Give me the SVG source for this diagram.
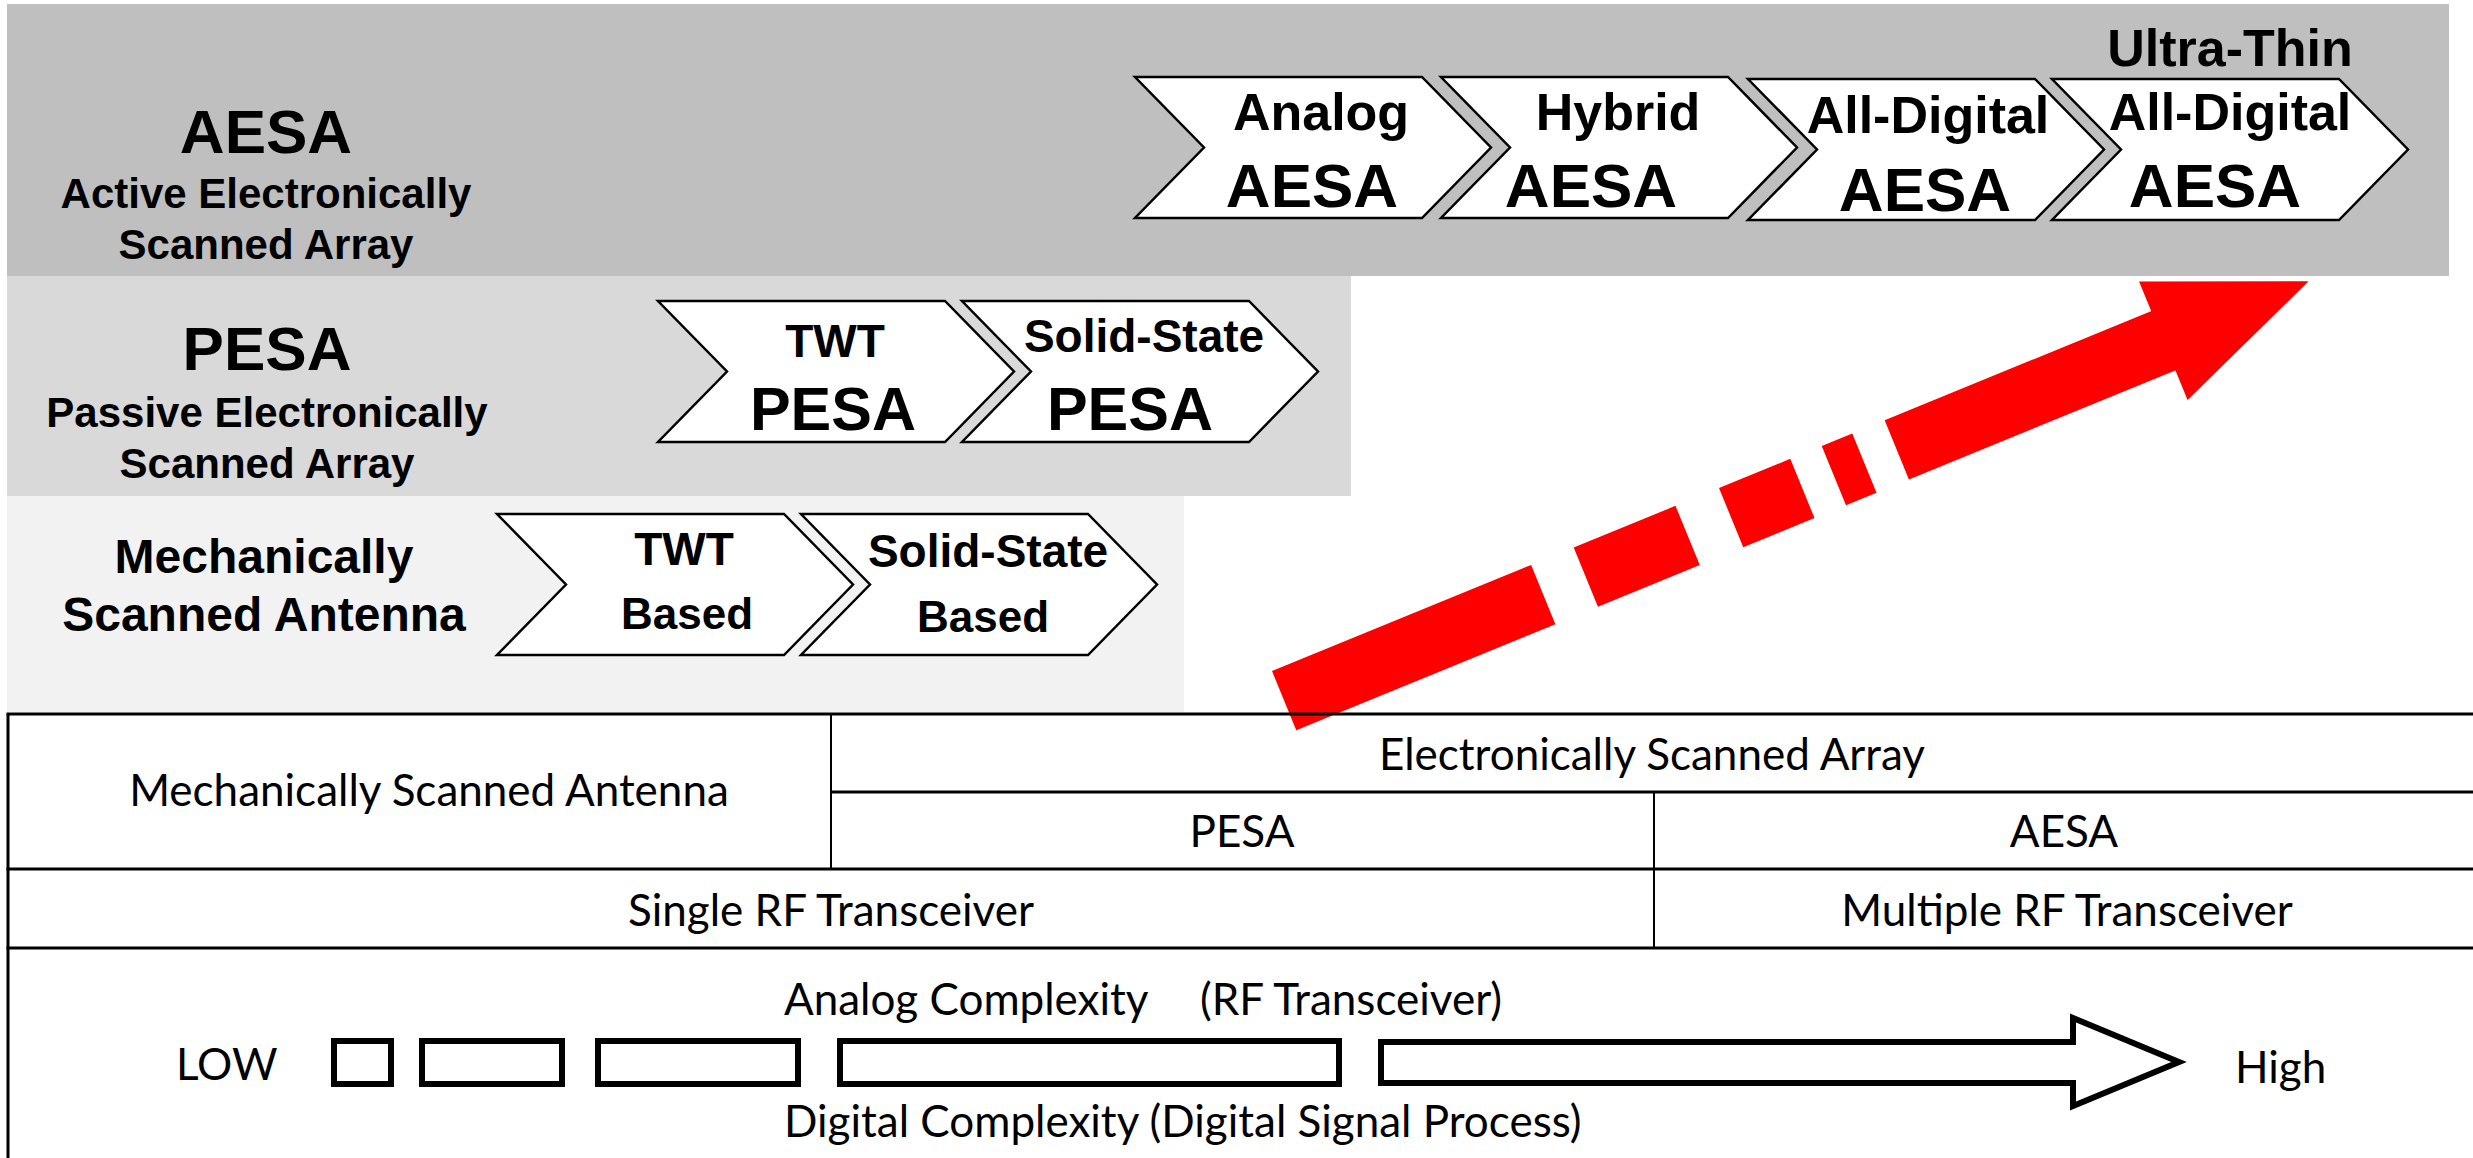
<svg xmlns="http://www.w3.org/2000/svg" width="2473" height="1158" viewBox="0 0 2473 1158">
<style>
.b{font-family:"Liberation Sans",Arial,sans-serif;font-weight:bold;fill:#000;text-anchor:middle}
.t{font-family:Lato,"Open Sans",sans-serif;fill:#000;font-size:44px}
.tc{text-anchor:middle}
.chev{fill:#fff;stroke:#000;stroke-width:2.5;stroke-linejoin:miter}
.ln{stroke:#000;stroke-width:3;fill:none}
.vl{stroke:#000;stroke-width:2;fill:none}
.bx{fill:#fff;stroke:#000;stroke-width:6}
</style>
<defs>
<path id="chev" d="M0,0 H287 L356,70.5 L287,141 H0 L69,70.5 Z"/>
</defs>

<!-- bands -->
<g id="bands">
<rect x="7" y="4" width="2442" height="272" fill="#bfbfbf"/>
<rect x="7" y="276" width="1344" height="220" fill="#d9d9d9"/>
<rect x="7" y="496" width="1177" height="216" fill="#f2f2f2"/>
</g>

<!-- left labels -->
<g id="label-aesa">
<text class="b" x="266" y="153" font-size="62">AESA</text>
<text class="b" x="266" y="208" font-size="42">Active Electronically</text>
<text class="b" x="266" y="259" font-size="42">Scanned Array</text>
</g>
<g id="label-pesa">
<text class="b" x="267" y="370" font-size="62">PESA</text>
<text class="b" x="267" y="427" font-size="42">Passive Electronically</text>
<text class="b" x="267" y="478" font-size="42">Scanned Array</text>
</g>
<g id="label-mech">
<text class="b" x="264" y="573" font-size="48">Mechanically</text>
<text class="b" x="264" y="631" font-size="48">Scanned Antenna</text>
</g>

<!-- AESA chevrons -->
<g id="analog-aesa">
<use href="#chev" x="1135" y="77" class="chev"/>
<text class="b" x="1321" y="130" font-size="52">Analog</text>
<text class="b" x="1312" y="207" font-size="62">AESA</text>
</g>
<g id="hybrid-aesa">
<use href="#chev" x="1441" y="77" class="chev"/>
<text class="b" x="1618" y="130" font-size="52">Hybrid</text>
<text class="b" x="1591" y="207" font-size="62">AESA</text>
</g>
<g id="alldigital-aesa">
<use href="#chev" x="1748" y="79" class="chev"/>
<text class="b" x="1928" y="133" font-size="52">All-Digital</text>
<text class="b" x="1925" y="211" font-size="62">AESA</text>
</g>
<g id="ultrathin-aesa">
<use href="#chev" x="2052" y="79" class="chev"/>
<text class="b" x="2230" y="66" font-size="52">Ultra-Thin</text>
<text class="b" x="2230" y="130" font-size="52">All-Digital</text>
<text class="b" x="2215" y="207" font-size="62">AESA</text>
</g>

<!-- PESA chevrons -->
<g id="twt-pesa">
<use href="#chev" x="658" y="301" class="chev"/>
<text class="b" x="835" y="357" font-size="46">TWT</text>
<text class="b" x="833" y="430" font-size="61">PESA</text>
</g>
<g id="solid-pesa">
<use href="#chev" x="962" y="301" class="chev"/>
<text class="b" x="1144" y="352" font-size="46">Solid-State</text>
<text class="b" x="1130" y="430" font-size="61">PESA</text>
</g>

<!-- Mechanical chevrons -->
<g id="twt-based">
<use href="#chev" x="497" y="514" class="chev"/>
<text class="b" x="684" y="565" font-size="46">TWT</text>
<text class="b" x="687" y="629" font-size="44">Based</text>
</g>
<g id="solid-based">
<use href="#chev" x="801" y="514" class="chev"/>
<text class="b" x="988" y="567" font-size="46">Solid-State</text>
<text class="b" x="983" y="632" font-size="44">Based</text>
</g>

<!-- red dashed trend arrow -->
<g id="trend-arrow" fill="#ff0000" transform="translate(1272,671) rotate(-22.26)">
<rect x="0" y="0" width="280" height="64"/>
<rect x="326" y="0" width="110" height="64"/>
<rect x="483" y="0" width="77" height="64"/>
<rect x="594" y="0" width="33" height="64"/>
<rect x="662" y="0" width="289" height="64"/>
<polygon points="950,-32 1107,32 950,96"/>
</g>

<!-- table -->
<g id="table">
<line class="ln" x1="6.5" y1="714" x2="2473" y2="714"/>
<line class="ln" x1="8" y1="714" x2="8" y2="1158"/>
<line class="ln" x1="831" y1="792" x2="2473" y2="792"/>
<line class="ln" x1="6.5" y1="869" x2="2473" y2="869"/>
<line class="ln" x1="6.5" y1="948" x2="2473" y2="948"/>
<line class="vl" x1="831" y1="714" x2="831" y2="869"/>
<line class="vl" x1="1654" y1="792" x2="1654" y2="948"/>
</g>
<g id="cell-msa"><text class="t tc" x="429" y="806">Mechanically Scanned Antenna</text></g>
<g id="cell-esa"><text class="t tc" x="1652" y="770">Electronically Scanned Array</text></g>
<g id="cell-pesa"><text class="t tc" x="1242" y="847">PESA</text></g>
<g id="cell-aesa"><text class="t tc" x="2064" y="847">AESA</text></g>
<g id="cell-single"><text class="t tc" x="831" y="926">Single RF Transceiver</text></g>
<g id="cell-multiple"><text class="t tc" x="2067" y="926">Multiple RF Transceiver</text></g>

<!-- complexity scale -->
<g id="complexity">
<text class="t" x="784" y="1015">Analog Complexity</text>
<text class="t" x="1200" y="1015">(RF Transceiver)</text>
<text class="t" x="784" y="1137">Digital Complexity (Digital Signal Process)</text>
<text class="t" x="176" y="1080" font-size="53">LOW</text>
<text class="t" x="2235" y="1083" font-size="53">High</text>
<rect class="bx" x="334" y="1041" width="57" height="43"/>
<rect class="bx" x="422" y="1041" width="140" height="43"/>
<rect class="bx" x="598" y="1041" width="200" height="43"/>
<rect class="bx" x="840" y="1041" width="499" height="43"/>
<path class="bx" d="M1381,1042 H2073 V1018 L2179,1062 L2073,1106 V1083 H1381 Z"/>
</g>
</svg>
